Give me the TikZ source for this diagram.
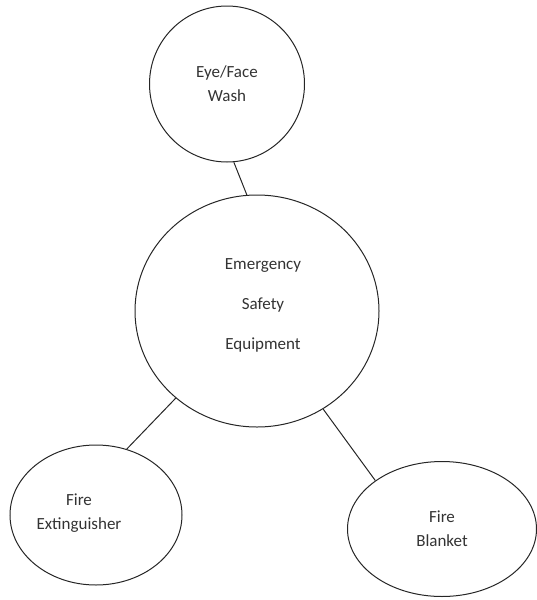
\documentclass[tikz,border=0pt]{standalone}
\usepackage{fontspec}
\setmainfont{Carlito}
\usepackage{xcolor}
\usepackage{tikz}
\usetikzlibrary{shapes.geometric}

\begin{document}
\begin{tikzpicture}[
    x=1pt, y=-1pt,
    bubble/.style={ellipse, draw=black!85, line width=1pt, inner sep=0pt, align=center,
        text=black!80, font=\fontsize{17}{24}\selectfont},
    link/.style={draw=black!85, line width=1pt}
]
\useasboundingbox (0,0) rectangle (537,600);

% centre and equipment bubbles
\node[bubble, minimum width=244pt, minimum height=232pt,
    font=\fontsize{17}{40}\selectfont] (core) at (257,311)
    {\hspace*{12pt}Emergency\\\hspace*{12pt}Safety\\\hspace*{12pt}Equipment\\[-26pt]};
\node[bubble, minimum width=155pt, minimum height=156pt] (eyewash) at (227,84) {Eye/Face\\Wash};
\node[bubble, minimum width=172pt, minimum height=140pt,
    label={[align=center, text=black!80, font=\fontsize{17}{24}\selectfont, xshift=-17pt, yshift=2pt]center:Fire\\Extinguisher}]
    (extinguisher) at (96,515) {};
\node[bubble, minimum width=189pt, minimum height=135pt] (blanket) at (442,529) {Fire\\Blanket};

% links
\draw[link] (eyewash.275) -- (core.95);
\draw[link] (core.227) -- (extinguisher.65);
\draw[link] (core.304) -- (blanket.144);
\end{tikzpicture}
\end{document}
